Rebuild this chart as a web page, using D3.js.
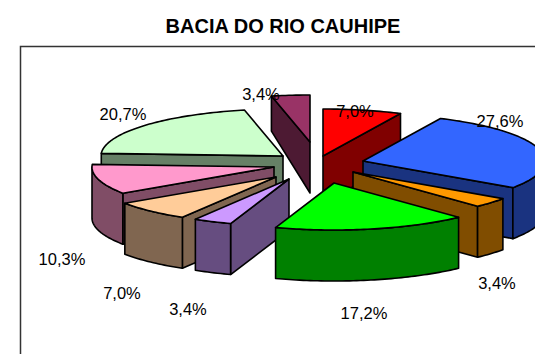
<!DOCTYPE html>
<html>
<head>
<meta charset="utf-8">
<script src="https://cdn.jsdelivr.net/npm/d3@7"></script>
<style>
    html, body { margin: 0; padding: 0; background: #fff; overflow: hidden; }
    svg { display: block; }
    text { font-family: "Liberation Sans", Arial, sans-serif; fill: #000; }
</style>
</head>
<body>
<div class="container"></div>
<script>
// slices clockwise from 12 o'clock
const values = [7.0, 27.6, 3.4, 17.2, 3.4, 7.0, 10.3, 20.7, 3.4];
const labels = ["7,0%", "27,6%", "3,4%", "17,2%", "3,4%", "7,0%", "10,3%", "20,7%", "3,4%"];
const topColors = ["#ff0000", "#3366ff", "#ff9900", "#00ff00", "#cc99ff", "#ffcc99", "#ff99cc", "#ccffcc", "#993366"];
const sideColors = ["#800000", "#1a3380", "#804d00", "#008000", "#664d80", "#806650", "#804d66", "#668066", "#4d1a33"];

const width = 535,
    height = 354;

// pie geometry
const center = { x: 316, y: 167 };
const radius = { x: 182, y: 47 };

// how far each slice is pulled out of the centre
const explodeX = [7, 47, 37, 18, -27, -40, -42, -33, -6];
const explodeY = [-11, -6, 5, 16, 12, 10, 0, -11, -25];

// label centres
const labelX = [355, 500, 497, 364, 188, 122, 62, 123, 261];
const labelY = [111, 121, 283, 313, 309, 293, 259, 114, 94];

// far points of the pie have a shorter wall (perspective)
const depth = d3.scaleLinear().domain([97, 142]).range([35, 51]).clamp(true);

const svg = d3.select(".container")
    .append("svg")
    .attr("width", width)
    .attr("height", height);

svg.append("text")
    .text("BACIA DO RIO CAUHIPE")
    .attr("x", 283)
    .attr("y", 33)
    .attr("text-anchor", "middle")
    .style("font-weight", "bold")
    .style("font-size", "20px");

// plot area frame, only top and left are inside the picture
svg.append("path")
    .attr("d", "M20.5,354V46.5H535")
    .attr("fill", "none")
    .attr("stroke", "#333")
    .attr("stroke-width", 1.5);

const pie = d3.pie().sort(null).startAngle(0).endAngle(2 * Math.PI);
const arcs = pie(values).map((d, i) => ({
    i,
    start: d.startAngle,
    end: d.endAngle,
    apex: { x: center.x + explodeX[i], y: center.y + explodeY[i] }
}));

const line = d3.line().x(p => p.x).y(p => p.y);
const lower = p => ({ x: p.x, y: p.y + depth(p.y) });

function rimPoint(apex, angle) {
    return {
        x: apex.x + radius.x * Math.sin(angle),
        y: apex.y - radius.y * Math.cos(angle)
    };
}

function rimPoints(apex, a, b) {
    const n = Math.max(2, Math.ceil((b - a) / 0.02));
    return d3.range(n + 1).map(k => rimPoint(apex, a + (b - a) * k / n));
}

function face(points, fill) {
    svg.append("path")
        .attr("d", line(points) + "Z")
        .attr("fill", fill)
        .attr("stroke", "#000")
        .attr("stroke-width", 1.6)
        .attr("stroke-linejoin", "round");
}

// back to front
const drawOrder = [8, 0, 7, 1, 6, 5, 2, 4, 3];

drawOrder.forEach(idx => {
    const s = arcs[idx];
    const side = sideColors[idx];

    // cut face at the start of the slice
    if (Math.sin(s.start) < 0) {
        const tip = rimPoint(s.apex, s.start);
        face([s.apex, tip, lower(tip), lower(s.apex)], side);
    }
    // cut face at the end of the slice
    if (Math.sin(s.end) > 0) {
        const tip = rimPoint(s.apex, s.end);
        face([s.apex, tip, lower(tip), lower(s.apex)], side);
    }
    // front wall, the part of the rim between 90 and 270 degrees
    const a = Math.max(s.start, Math.PI / 2),
        b = Math.min(s.end, Math.PI * 1.5);
    if (b > a) {
        const rim = rimPoints(s.apex, a, b);
        face(rim.concat(rim.map(lower).reverse()), side);
    }
    // top
    face([s.apex].concat(rimPoints(s.apex, s.start, s.end)), topColors[idx]);
});

svg.selectAll("text.label")
    .data(labels)
    .enter()
    .append("text")
    .attr("class", "label")
    .text(d => d)
    .attr("x", (d, i) => labelX[i])
    .attr("y", (d, i) => labelY[i])
    .attr("text-anchor", "middle")
    .attr("dominant-baseline", "central")
    .style("font-size", "16.5px");
</script>
</body>
</html>
